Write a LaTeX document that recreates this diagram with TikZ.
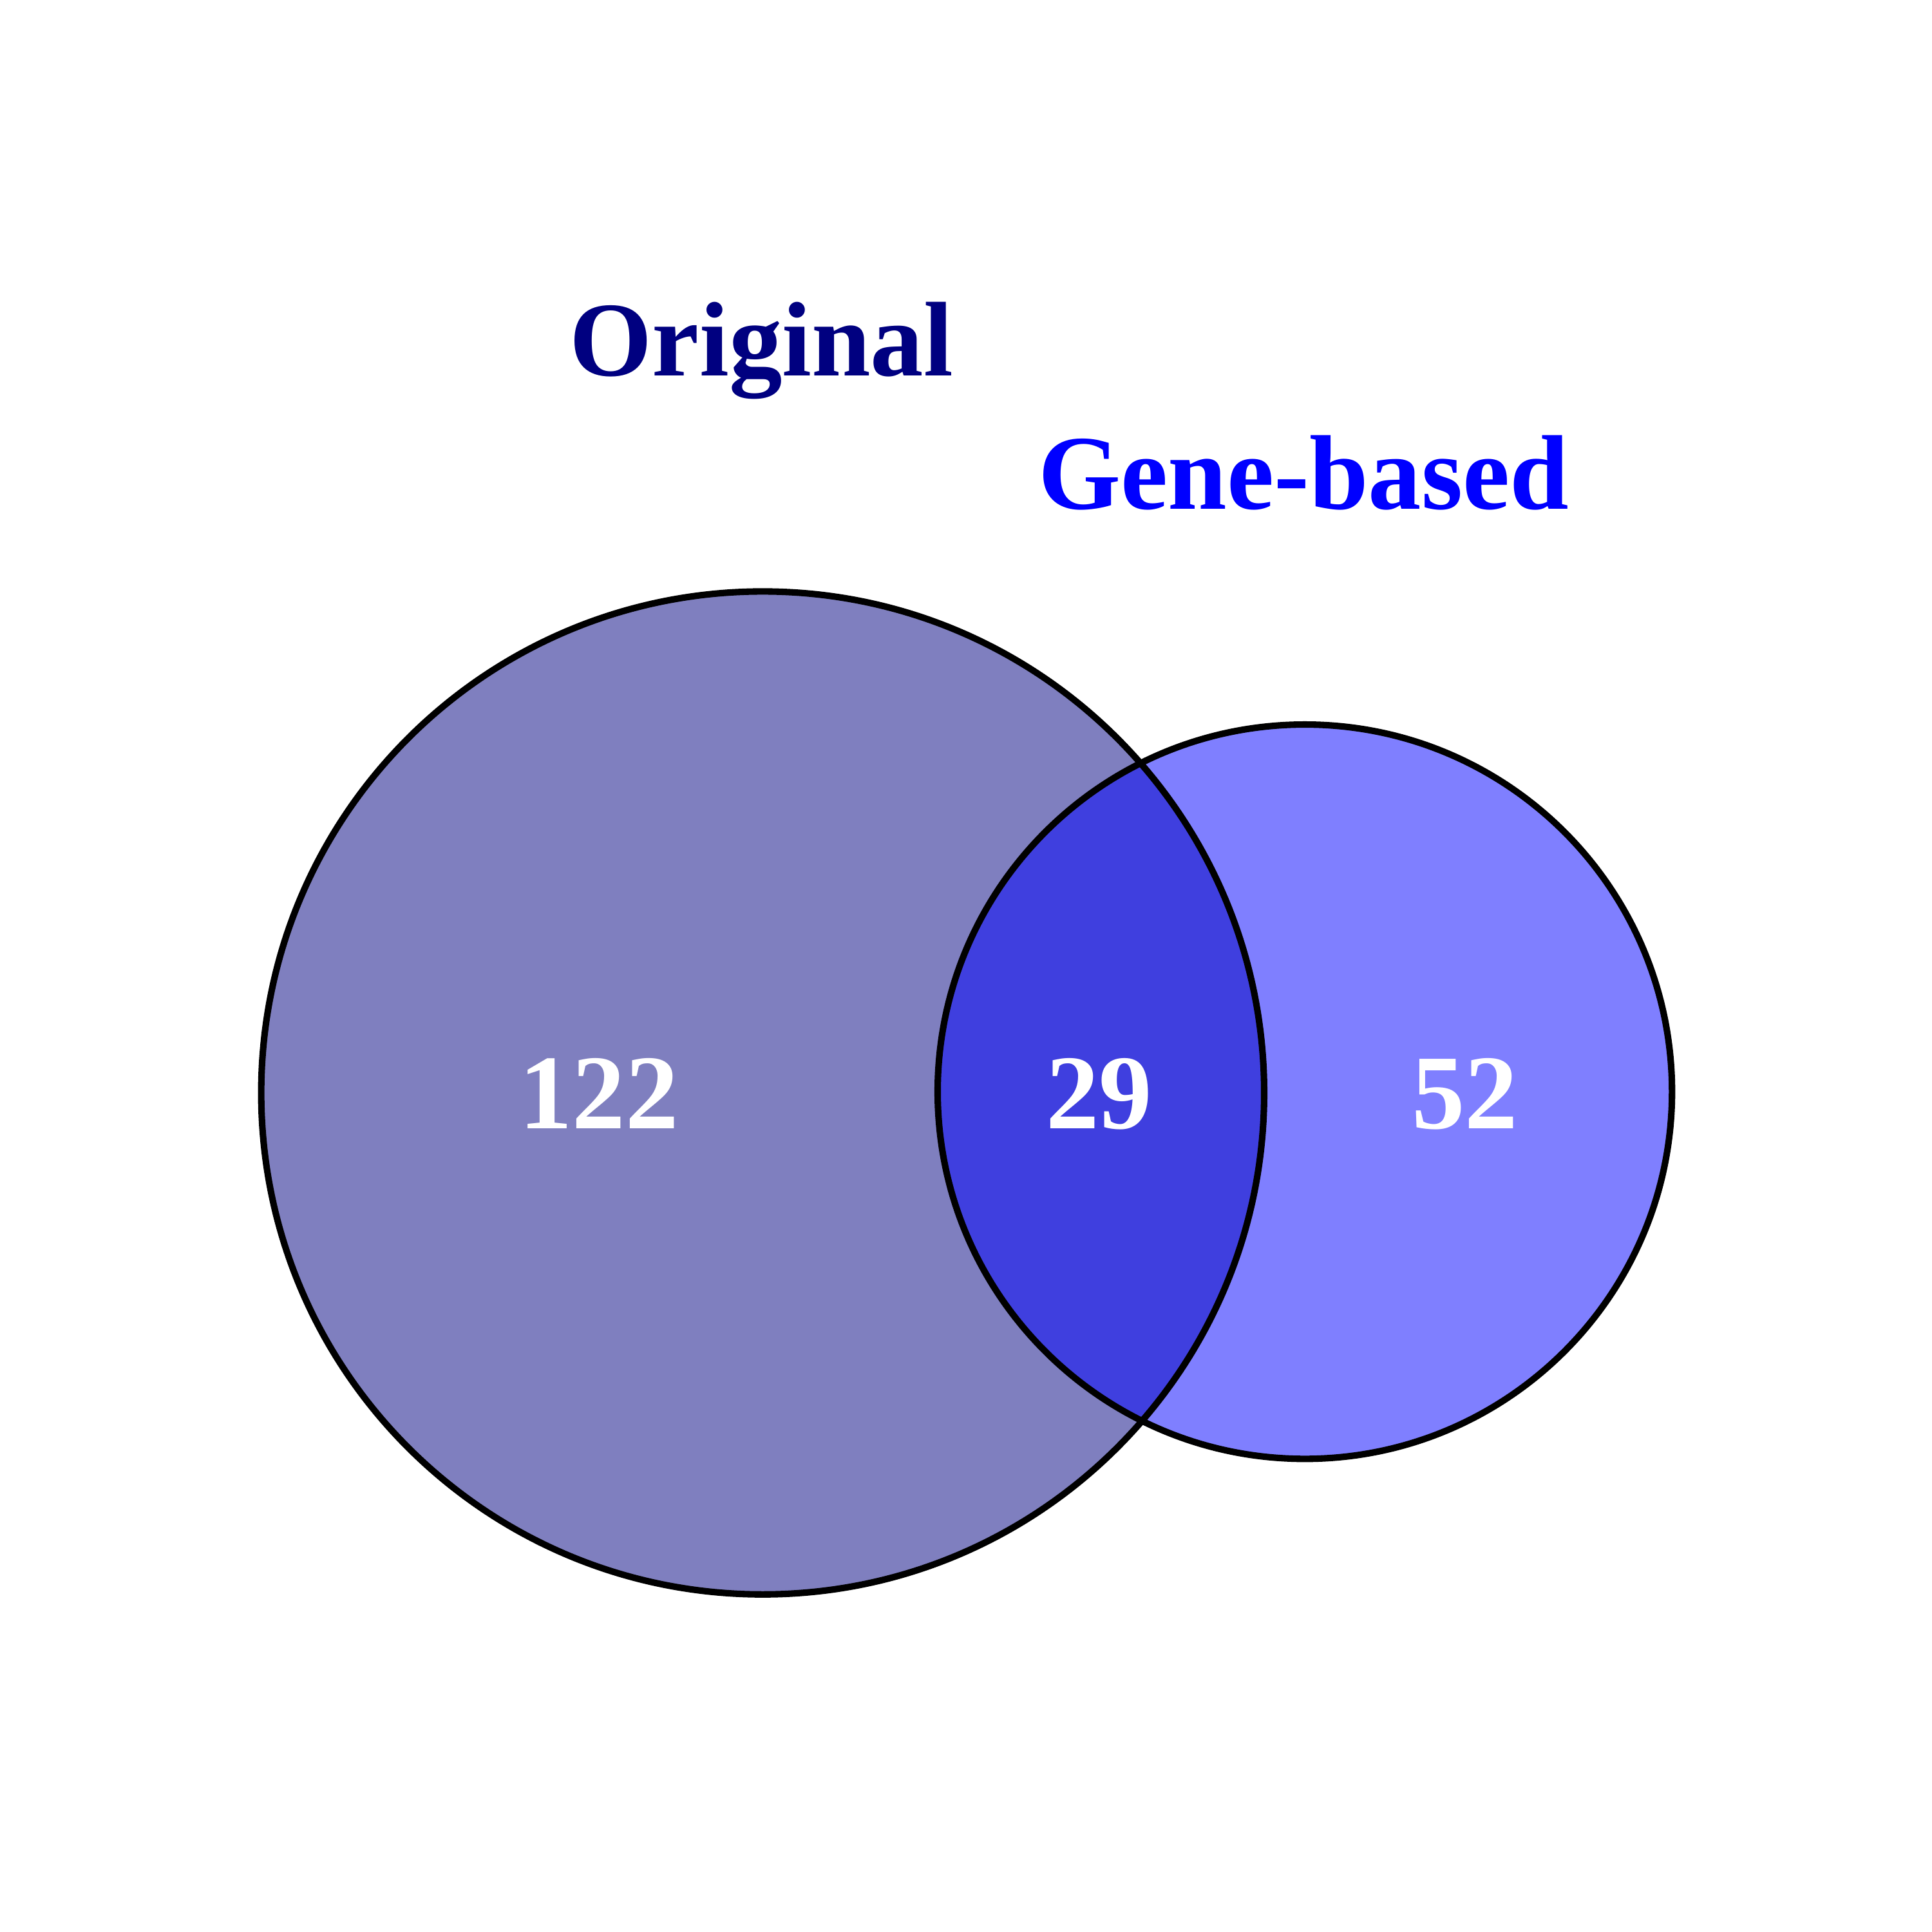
\documentclass[tikz,border=0pt]{standalone}
\usepackage{fontspec}
\setmainfont{Liberation Serif}[BoldFont={Liberation Serif Bold}]
\definecolor{origcol}{RGB}{0,0,128}
\definecolor{genecol}{RGB}{0,0,255}
\tikzset{
  setlabel/.style={anchor=base, font=\fontsize{24.5}{29}\selectfont\bfseries},
  countlabel/.style={anchor=base, text=white, font=\fontsize{24.5}{29}\selectfont\bfseries},
}
\begin{document}
\begin{tikzpicture}[x=0.01cm, y=-0.01cm, line width=1.5pt]
				\useasboundingbox (0,0) rectangle (1568,1568);
				
				% circle fills (half transparent)
				\fill[origcol, fill opacity=0.5] (619, 887) circle (407);
				\fill[genecol, fill opacity=0.5] (1059, 886) circle (298);
				
				% outlines
				\draw[black] (619, 887) circle (407);
				\draw[black] (1059, 886) circle (298);
				
				% set names
				\node[setlabel, text=origcol] (orig) at (618, 305) {Original};
				\node[setlabel, text=genecol] (gene) at (1058, 413) {Gene-based};
				
				% counts
				\node[countlabel] (onlyorig) at (486, 916) {122};
				\node[countlabel] (both) at (892, 916) {29};
				\node[countlabel] (onlygene) at (1189, 916) {52};
			\end{tikzpicture}
\end{document}
